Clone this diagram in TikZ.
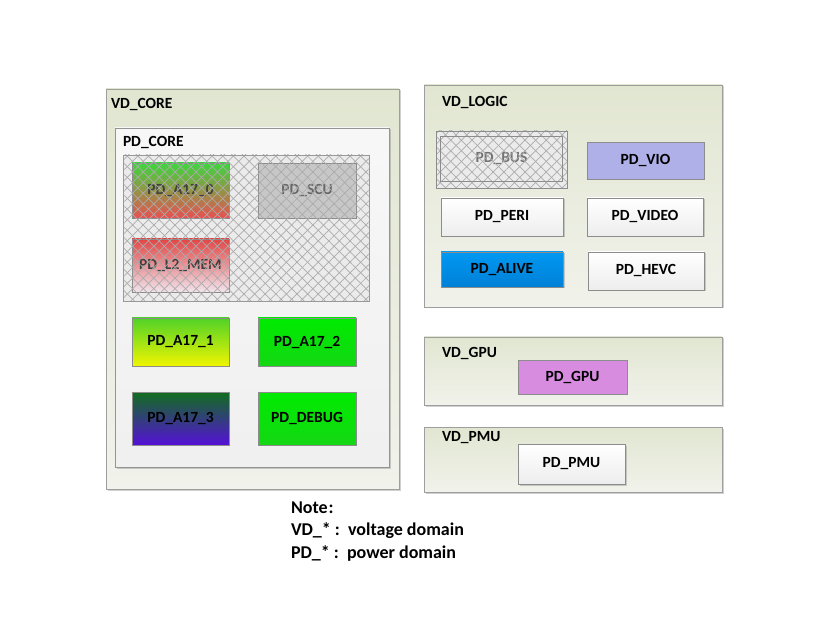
\documentclass[tikz,border=0pt]{standalone}
\usepackage{fontspec}
\setmainfont{Carlito}
\usetikzlibrary{patterns.meta,shadows}
\definecolor{vdtop}{RGB}{225,230,209}
\definecolor{vdbot}{RGB}{241,242,235}
\definecolor{a0top}{RGB}{60,215,60}
\definecolor{a0bot}{RGB}{235,80,80}
\definecolor{l2top}{RGB}{225,70,70}
\definecolor{l2bot}{RGB}{242,228,236}
\definecolor{a1top}{RGB}{80,210,40}
\definecolor{a1bot}{RGB}{240,245,0}
\definecolor{a2top}{RGB}{0,235,0}
\definecolor{a2bot}{RGB}{20,215,20}
\definecolor{a3top}{RGB}{16,110,30}
\definecolor{a3bot}{RGB}{85,16,215}
\definecolor{vio}{RGB}{176,176,232}
\definecolor{alivetop}{RGB}{0,152,242}
\definecolor{alivebot}{RGB}{0,128,215}
\definecolor{gpu}{RGB}{216,140,224}
\tikzset{
  shad/.style={drop shadow={shadow xshift=1.5pt,shadow yshift=-1.5pt,opacity=0.3,fill=black!60}},
  vd/.style={draw=black!38,line width=0.7pt,top color=vdtop,bottom color=vdbot,shad},
  pdcorebox/.style={draw=black!42,line width=0.7pt,top color=white!97!black,bottom color=white!94!black,shad},
  pd/.style={draw=black!45,line width=0.6pt},
  pdw/.style={pd,top color=white,bottom color=black!7,shad},
  lbl/.style={anchor=west,font=\bfseries\fontsize{15.5}{17}\selectfont},
  notetxt/.style={anchor=west,font=\bfseries\fontsize{18}{20}\selectfont},
  hatchA/.style={pattern={Lines[angle=45,distance=7.5pt,line width=0.7pt]},pattern color=black!33},
  hatchB/.style={pattern={Lines[angle=-45,distance=7.5pt,line width=0.7pt]},pattern color=black!33},
}
\begin{document}
\begin{tikzpicture}[x=1pt,y=-1pt,every node/.style={inner sep=0pt,outer sep=0pt,font=\bfseries\fontsize{15.5}{17}\selectfont}]
\useasboundingbox[fill=white] (0,0) rectangle (830,644);

% VD_CORE
\node[vd,minimum width=293,minimum height=400] (vdcore) at (252.5,289) {};
\node[lbl] (vdcorel) at (111,105) {VD\_CORE};
\node[pdcorebox,minimum width=274,minimum height=339] (pdcore) at (252,297.5) {};
\node[lbl] (pdcorel) at (123,143) {PD\_CORE};
\node[draw=black!40,fill=black!8,minimum width=246,minimum height=146] (hreg) at (246,228) {};
\node[pd,top color=a0top,bottom color=a0bot,text=black!75,minimum width=97,minimum height=55] (a170) at (180.5,190.5) {PD\_A17\_0};
\node[pd,fill=black!22,text=black!60,minimum width=98,minimum height=55] (scu) at (307,190.5) {PD\_SCU};
\node[pd,top color=l2top,bottom color=l2bot,text=black!75,minimum width=97,minimum height=53] (l2) at (180.5,265.5) {PD\_L2\_MEM};
\path[hatchA] (hreg.north west) rectangle (hreg.south east);
\path[hatchB] (hreg.north west) rectangle (hreg.south east);
\draw[black!40] (hreg.north west) rectangle (hreg.south east);

\node[pd,top color=a1top,bottom color=a1bot,minimum width=97,minimum height=48] (a171) at (180.5,342) {PD\_A17\_1};
\node[pd,top color=a2top,bottom color=a2bot,minimum width=98,minimum height=48] (a172) at (307,342) {PD\_A17\_2};
\node[pd,top color=a3top,bottom color=a3bot,minimum width=97,minimum height=53] (a173) at (180.5,418.5) {PD\_A17\_3};
\node[pd,top color=a2top,bottom color=a2bot,minimum width=98,minimum height=53] (debug) at (307,418.5) {PD\_DEBUG};

% VD_LOGIC
\node[vd,minimum width=298,minimum height=222] (vdlogic) at (573,196) {};
\node[lbl] (vdlogicl) at (442,103) {VD\_LOGIC};
\node[draw=black!45,fill=black!8,minimum width=131,minimum height=57] (busout) at (501.5,159.5) {};
\node[pd,text=black!55,minimum width=122,minimum height=45] (bus) at (501.5,158.5) {PD\_BUS};
\path[hatchA] (busout.north west) rectangle (busout.south east);
\path[hatchB] (busout.north west) rectangle (busout.south east);
\draw[black!45] (busout.north west) rectangle (busout.south east);
\draw[black!45] (bus.north west) rectangle (bus.south east);
\node[pd,fill=vio,minimum width=117,minimum height=37] (vio) at (645.5,160.5) {PD\_VIO};
\node[pdw,minimum width=122,minimum height=38] (peri) at (502,217) {PD\_PERI};
\node[pdw,minimum width=116,minimum height=38] (video) at (645,217) {PD\_VIDEO};
\node[pd,top color=alivetop,bottom color=alivebot,minimum width=122,minimum height=35,shad] (alive) at (502,269.5) {PD\_ALIVE};
\node[pdw,minimum width=116,minimum height=38] (hevc) at (646,271) {PD\_HEVC};

% VD_GPU
\node[vd,minimum width=298,minimum height=68] (vdgpu) at (573,371) {};
\node[lbl] (vdgpul) at (442,353) {VD\_GPU};
\node[pd,fill=gpu,minimum width=109,minimum height=34] (gpu) at (572.5,377) {PD\_GPU};

% VD_PMU
\node[vd,minimum width=298,minimum height=65] (vdpmu) at (573,459.5) {};
\node[lbl] (vdpmul) at (442,438) {VD\_PMU};
\node[pdw,minimum width=107,minimum height=40] (pmu) at (571.5,464) {PD\_PMU};

% Note
\node[notetxt] (n1) at (291,508) {Note\kern1pt:};
\node[notetxt] (n2) at (291,531) {VD\_* :\ \ voltage domain};
\node[notetxt] (n3) at (291,553) {PD\_* :\ \ power domain};
\end{tikzpicture}
\end{document}
